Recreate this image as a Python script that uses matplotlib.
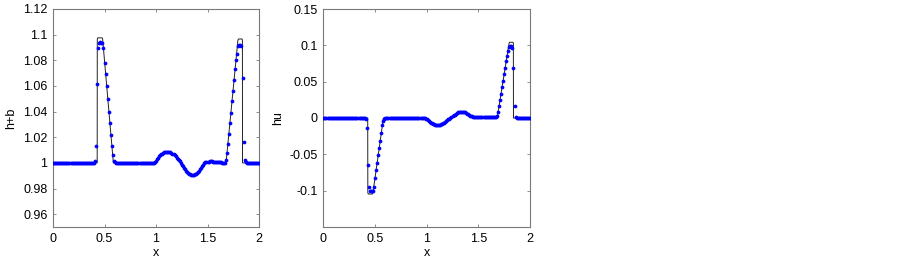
import numpy as np
import matplotlib
matplotlib.use("Agg")
import matplotlib.pyplot as plt

plt.rcParams['font.family'] = ['Liberation Sans', 'DejaVu Sans']

# ---- data: numerical solution on cells x = 0, 0.01, ..., 2.00 ----
x_cells = np.round(np.arange(0, 201) * 0.01, 2)

hb_dots = ([1.0] * 41 +
           [1.0015, 1.013, 1.0615, 1.0893, 1.0937, 1.0940, 1.0938, 1.0935, 1.0893, 1.0776,
            1.069, 1.060, 1.050, 1.040, 1.031, 1.022, 1.013, 1.006, 1.0015, 1.0003] +
           [1.0] * 37 +
           [1.0002, 1.0006, 1.0015, 1.0027, 1.0040, 1.0050, 1.0058, 1.0066, 1.0072, 1.0078,
            1.0082, 1.0085, 1.0087, 1.0088, 1.0087, 1.0085, 1.0082, 1.0078, 1.0072, 1.0066,
            1.0058, 1.0050, 1.0041, 1.0031, 1.0021, 1.0011, 1.0000, 0.9987, 0.9974, 0.9962,
            0.9951, 0.9940, 0.9931, 0.9922, 0.9916, 0.9911, 0.9907, 0.9905, 0.9905, 0.9907,
            0.9911, 0.9916, 0.9922, 0.9931, 0.9940, 0.9951, 0.9962, 0.9974, 0.9987, 0.9998,
            1.0004, 1.0007, 1.0009, 1.0010, 1.0011, 1.0011, 1.0011, 1.0010, 1.0010, 1.0009,
            1.0008, 1.0007, 1.0006, 1.0005, 1.0004, 1.0003, 1.0001, 1.0000, 0.9997, 0.9998,
            1.0020, 1.0080, 1.0150, 1.0225, 1.0310, 1.0390, 1.0480, 1.0560, 1.0650, 1.0730,
            1.0800, 1.0850, 1.0915, 1.0920, 1.0920, 1.0915, 1.0660, 1.0160, 1.0020, 1.0003] +
           [1.0] * 13)

hu_dots = ([0.0] * 41 +
           [-0.0008, -0.0131, -0.0644, -0.0955, -0.1005, -0.1010, -0.1010, -0.1005, -0.0955, -0.0827,
            -0.0722, -0.0620, -0.0510, -0.0410, -0.0310, -0.0208, -0.0103, -0.0040, -0.0008, -0.0001] +
           [0.0] * 37 +
           [-0.0003, -0.0008, -0.0017, -0.0029, -0.0042, -0.0053, -0.0063, -0.0072, -0.0080, -0.0086,
            -0.0091, -0.0094, -0.0096, -0.0096, -0.0094, -0.0091, -0.0086, -0.0080, -0.0072, -0.0063,
            -0.0053, -0.0042, -0.0031, -0.0020, -0.0009, 0.0002, 0.0013, 0.0025, 0.0037, 0.0048,
            0.0059, 0.0068, 0.0076, 0.0082, 0.0086, 0.0088, 0.0088, 0.0086, 0.0082, 0.0076,
            0.0068, 0.0059, 0.0050, 0.0042, 0.0034, 0.0027, 0.0022, 0.0019, 0.0017, 0.0016,
            0.0015, 0.0015, 0.0015, 0.0015, 0.0015, 0.0015, 0.0015, 0.0015, 0.0015, 0.0015,
            0.0015, 0.0015, 0.0015, 0.0014, 0.0013, 0.0012, 0.0011, 0.0010, 0.0008, 0.0008,
            0.0025, 0.0085, 0.0160, 0.0245, 0.0330, 0.0420, 0.0510, 0.0600, 0.0690, 0.0780,
            0.0860, 0.0920, 0.0975, 0.0985, 0.0985, 0.0960, 0.0694, 0.0167, 0.0012, 0.0002] +
           [0.0] * 13)

# ---- reference (exact) solution breakpoints inside the two shock windows ----
hb_ref_left_x = [0.40, 0.429, 0.430, 0.434, 0.477, 0.482, 0.586, 0.60]
hb_ref_left_y = [1.0, 1.0, 1.0960, 1.0975, 1.0975, 1.0965, 1.0, 1.0]
hb_ref_right_x = [1.67, 1.680, 1.795, 1.800, 1.836, 1.839, 1.840, 1.87]
hb_ref_right_y = [0.9998, 1.0, 1.0955, 1.0966, 1.0966, 1.0955, 1.0, 1.0]

hu_ref_left_x = [0.40, 0.429, 0.430, 0.434, 0.474, 0.479, 0.581, 0.60]
hu_ref_left_y = [0.0, 0.0, -0.1025, -0.1046, -0.1046, -0.1035, 0.0, 0.0]
hu_ref_right_x = [1.67, 1.683, 1.797, 1.802, 1.836, 1.839, 1.840, 1.87]
hu_ref_right_y = [0.0008, 0.0008, 0.1025, 0.1042, 0.1042, 0.1030, 0.0, 0.0]

xticks = [0, 0.5, 1, 1.5, 2]
xtick_labels = ['0', '0.5', '1', '1.5', '2']
hb_yticks = [0.96, 0.98, 1.0, 1.02, 1.04, 1.06, 1.08, 1.1, 1.12]
hb_ytick_labels = ['0.96', '0.98', '1', '1.02', '1.04', '1.06', '1.08', '1.1', '1.12']
hu_yticks = [-0.1, -0.05, 0, 0.05, 0.1, 0.15]
hu_ytick_labels = ['-0.1', '-0.05', '0', '0.05', '0.1', '0.15']

assert len(hb_dots) == 201 and len(hu_dots) == 201


def ref_line(xc, yc, lx, ly, rx, ry):
    xc = np.asarray(xc)
    yc = np.asarray(yc)
    m1 = xc < 0.395
    m2 = (xc > 0.605) & (xc < 1.665)
    m3 = xc > 1.875
    X = np.concatenate([xc[m1], lx, xc[m2], rx, xc[m3]])
    Y = np.concatenate([yc[m1], ly, yc[m2], ry, yc[m3]])
    return X, Y


W, H = 903, 263
fig = plt.figure(figsize=(W / 100, H / 100), dpi=100)
ax1 = fig.add_axes([53 / W, (H - 227) / H, 206 / W, 218 / H])
ax2 = fig.add_axes([323.4 / W, (H - 227) / H, 206.6 / W, 218 / H])

frame = '#7a7a7a'
dot_color = '#0000ff'
fs = 9

panels = [
    (ax1, hb_dots, (hb_ref_left_x, hb_ref_left_y, hb_ref_right_x, hb_ref_right_y),
     (0.95, 1.12), hb_yticks, hb_ytick_labels, 'h+b'),
    (ax2, hu_dots, (hu_ref_left_x, hu_ref_left_y, hu_ref_right_x, hu_ref_right_y),
     (-0.15, 0.15), hu_yticks, hu_ytick_labels, 'hu'),
]

for ax, dots, refs, ylim, yt, ytl, ylab in panels:
    X, Y = ref_line(x_cells, dots, *refs)
    ax.plot(X, Y, color='#222222', linewidth=0.7, zorder=2)
    ax.plot(x_cells, dots, linestyle='none', marker='o', markersize=2.7,
            markeredgewidth=0, color=dot_color, zorder=3)
    ax.set_xlim(0, 2)
    ax.set_ylim(*ylim)
    ax.set_xticks(xticks)
    ax.set_xticklabels(xtick_labels)
    ax.set_yticks(yt)
    ax.set_yticklabels(ytl)
    ax.tick_params(direction='in', length=2.5, width=0.6, color=frame,
                   labelsize=fs, top=True, right=True, pad=4)
    for s in ax.spines.values():
        s.set_color(frame)
        s.set_linewidth(0.8)
    ax.set_xlabel('x', fontsize=fs, labelpad=2)
    ax.set_ylabel(ylab, fontsize=fs, labelpad=4)

fig.savefig('out.png', dpi=100)
